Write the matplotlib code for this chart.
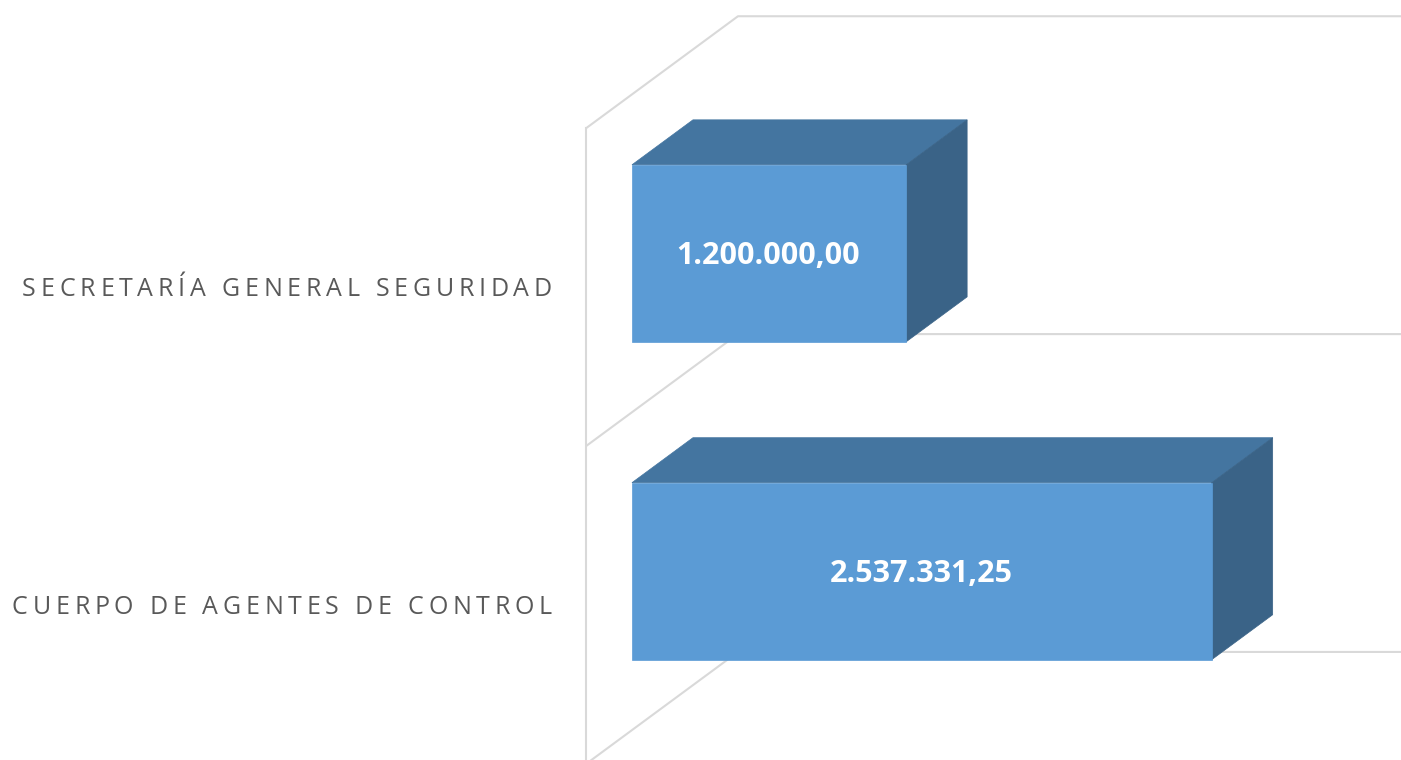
import matplotlib
matplotlib.use("Agg")
import matplotlib.pyplot as plt
from matplotlib.patches import Polygon
from matplotlib.transforms import offset_copy
from matplotlib.font_manager import FontProperties

# Data
categories = ["SECRETARÍA GENERAL SEGURIDAD", "CUERPO DE AGENTES DE CONTROL"]
values = [1200000.00, 2537331.25]

# Colours (Excel blue 3D bars)
FRONT = "#5B9BD5"
TOP = "#4475A0"
SIDE = "#3A6387"
GRID = "#D9D9D9"
LABEL = "#595959"

fig = plt.figure(figsize=(14.01, 7.6), dpi=100)
ax = fig.add_axes([0, 0, 1, 1])
ax.set_xlim(-2.766e6, 3.366e6)
ax.set_ylim(1.594, -0.797)   # categories top to bottom
ax.axis("off")

# oblique 3D projection: one bar depth = DX in value units, DY in category units
DX, DY = 0.267e6, -0.1415
BAR_H = 0.557
WALL_FRONT, WALL_BACK = -0.754, 1.738
VMAX = 3.6e6


def proj(v, c, d):
    return (v + d * DX, c + d * DY)


# walls / gridlines
for b in [-0.5, 0.5, 1.5]:
    pts = [proj(0, b, WALL_FRONT), proj(0, b, WALL_BACK), proj(VMAX, b, WALL_BACK)]
    ax.plot([p[0] for p in pts], [p[1] for p in pts], color=GRID, lw=1.5, zorder=1,
            solid_capstyle="butt")
p0, p1 = proj(0, -0.5, WALL_FRONT), proj(0, 2.0, WALL_FRONT)
ax.plot([p0[0], p1[0]], [p0[1], p1[1]], color=GRID, lw=1.5, zorder=1)

# bars
for i, v in enumerate(values):
    t, b = i - BAR_H / 2, i + BAR_H / 2
    top = [proj(0, t, 0), proj(v, t, 0), proj(v, t, 1), proj(0, t, 1)]
    side = [proj(v, t, 0), proj(v, b, 0), proj(v, b, 1), proj(v, t, 1)]
    front = [(0, t), (v, t), (v, b), (0, b)]
    ax.add_patch(Polygon(top, closed=True, fc=TOP, ec=TOP, lw=0.5, zorder=3))
    ax.add_patch(Polygon(side, closed=True, fc=SIDE, ec=SIDE, lw=0.5, zorder=3))
    ax.add_patch(Polygon(front, closed=True, fc=FRONT, ec=FRONT, lw=0.5, zorder=4))

    txt = f"{v:,.2f}".replace(",", "X").replace(".", ",").replace("X", ".")
    ax.text(v / 2, i, txt, transform=offset_copy(ax.transData, fig, x=-1, y=-11, units="dots"),
            ha="center", va="baseline", color="white", fontsize=22,
            fontweight="bold", family="Open Sans", zorder=5)

# category labels with letter spacing
fig.canvas.draw()
renderer = fig.canvas.get_renderer()
prop = FontProperties(family="Open Sans", size=18)
TRACK = 4.75  # px between letters


def char_w(ch):
    w1 = renderer.get_text_width_height_descent("X" + ch + "X", prop, ismath=False)[0]
    w0 = renderer.get_text_width_height_descent("XX", prop, ismath=False)[0]
    return w1 - w0


for i, cat in enumerate(categories):
    ax_pt = proj(0, i, WALL_FRONT)
    widths = [char_w(ch) for ch in cat]
    total = sum(widths) + TRACK * (len(cat) - 1)
    x = -34 - total
    for ch, w in zip(cat, widths):
        if ch != " ":
            ax.text(ax_pt[0], ax_pt[1], ch,
                    transform=offset_copy(ax.transData, fig, x=x, y=-9, units="dots"),
                    ha="left", va="baseline", color=LABEL, fontproperties=prop)
        x += w + TRACK

fig.savefig("out.png", dpi=100)
